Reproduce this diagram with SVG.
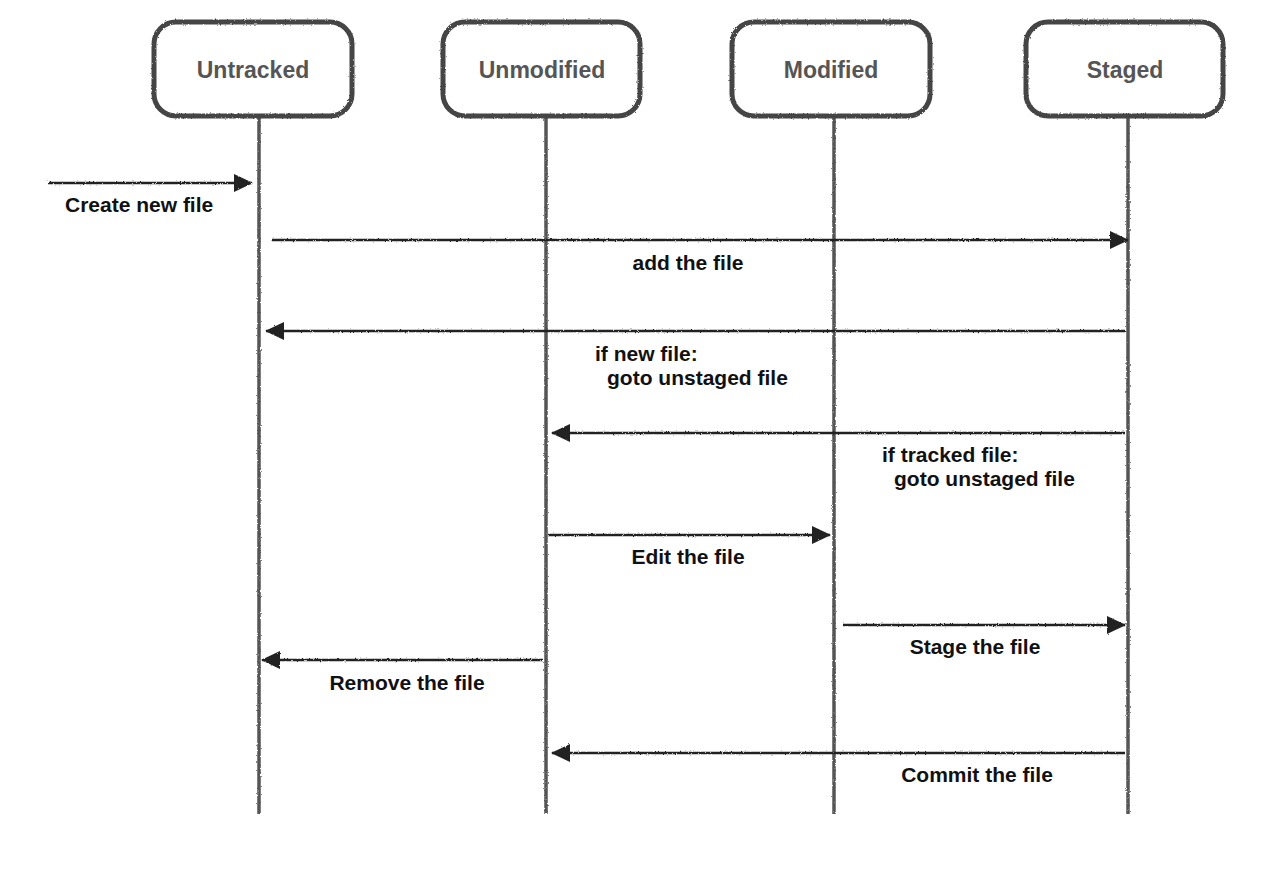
<svg xmlns="http://www.w3.org/2000/svg" width="1280" height="874" viewBox="0 0 1280 874">
<style>
.box{fill:#fff;stroke:#444;stroke-width:5}
.life{stroke:#555;stroke-width:3.5}
.msg{stroke:#222;stroke-width:2.5;fill:none}
.nt{font-family:"Liberation Sans",Arial,sans-serif;font-weight:bold;font-size:23px;fill:#555;text-anchor:middle}
.lb{font-family:"Liberation Sans",Arial,sans-serif;font-weight:bold;font-size:21px;fill:#111}
</style>
<defs>
<marker id="ah" viewBox="0 0 20 20" refX="18" refY="10" markerWidth="20" markerHeight="20" markerUnits="userSpaceOnUse" orient="auto">
<path d="M0,1 L19,10 L0,19 Z" fill="#222"/>
</marker>
<filter id="rough"><feTurbulence type="fractalNoise" baseFrequency="0.6" numOctaves="2" result="n"/><feDisplacementMap in="SourceGraphic" in2="n" scale="2.5"/></filter>
</defs>
<rect width="1280" height="874" fill="#fff"/>
<g id="lifelines" filter="url(#rough)">
<line class="life" x1="259" y1="116" x2="259" y2="814"/>
<line class="life" x1="546" y1="116" x2="546" y2="814"/>
<line class="life" x1="834" y1="116" x2="834" y2="814"/>
<line class="life" x1="1128" y1="116" x2="1128" y2="814"/>
</g>
<g id="n-untracked"><rect class="box" x="154" y="22" width="198" height="94" rx="22" filter="url(#rough)"/><text class="nt" x="253" y="78">Untracked</text></g>
<g id="n-unmodified"><rect class="box" x="443" y="22" width="197" height="94" rx="22" filter="url(#rough)"/><text class="nt" x="542" y="78">Unmodified</text></g>
<g id="n-modified"><rect class="box" x="732" y="22" width="198" height="94" rx="22" filter="url(#rough)"/><text class="nt" x="831" y="78">Modified</text></g>
<g id="n-staged"><rect class="box" x="1026" y="22" width="197" height="94" rx="22" filter="url(#rough)"/><text class="nt" x="1125" y="78">Staged</text></g>
<g id="connectors" filter="url(#rough)">
<line class="msg" x1="48" y1="183" x2="252" y2="183" marker-end="url(#ah)"/>
<line class="msg" x1="272" y1="240" x2="1128" y2="240" marker-end="url(#ah)"/>
<line class="msg" x1="1125" y1="331" x2="266" y2="331" marker-end="url(#ah)"/>
<line class="msg" x1="1125" y1="433" x2="552" y2="433" marker-end="url(#ah)"/>
<line class="msg" x1="548" y1="535" x2="830" y2="535" marker-end="url(#ah)"/>
<line class="msg" x1="843" y1="625" x2="1125" y2="625" marker-end="url(#ah)"/>
<line class="msg" x1="543" y1="660" x2="262" y2="660" marker-end="url(#ah)"/>
<line class="msg" x1="1125" y1="753" x2="552" y2="753" marker-end="url(#ah)"/>
</g>
<g id="labels">
<text class="lb" x="65" y="212">Create new file</text>
<text class="lb" x="688" y="270" text-anchor="middle">add the file</text>
<text class="lb" x="595" y="361">if new file:</text>
<text class="lb" x="607" y="385">goto unstaged file</text>
<text class="lb" x="882" y="462">if tracked file:</text>
<text class="lb" x="894" y="486">goto unstaged file</text>
<text class="lb" x="688" y="564" text-anchor="middle">Edit the file</text>
<text class="lb" x="975" y="654" text-anchor="middle">Stage the file</text>
<text class="lb" x="407" y="690" text-anchor="middle">Remove the file</text>
<text class="lb" x="977" y="782" text-anchor="middle">Commit the file</text>
</g>
</svg>
